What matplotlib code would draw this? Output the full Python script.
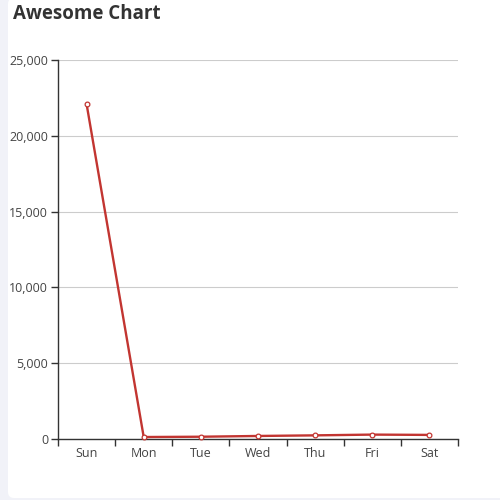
import matplotlib
matplotlib.use("Agg")
import matplotlib.pyplot as plt
from matplotlib.patches import FancyBboxPatch
from matplotlib.ticker import FuncFormatter, FixedLocator

days = ["Sun", "Mon", "Tue", "Wed", "Thu", "Fri", "Sat"]
values = [22100, 130, 150, 200, 240, 290, 270]
y_ticks = [0, 5000, 10000, 15000, 20000, 25000]
title = "Awesome Chart"

plt.rcParams['font.family'] = ['Open Sans', 'DejaVu Sans']

fig = plt.figure(figsize=(5, 5), dpi=100, facecolor="#f1f2f8")
card = FancyBboxPatch((8/500, 2/500), 1.0, 1.0,
                      boxstyle="round,pad=0,rounding_size=0.012",
                      transform=fig.transFigure, facecolor="white",
                      edgecolor="none", zorder=-10)
fig.patches.append(card)

ax = fig.add_axes([58/500, 1 - 439/500, 400/500, 379/500])
ax.set_facecolor("none")
ax.set_zorder(1)
x = list(range(len(days)))
ax.plot(x, values, color="#c23531", lw=1.7, marker="o", markersize=3.4,
        markerfacecolor="white", markeredgecolor="#c23531", markeredgewidth=0.9,
        zorder=3, clip_on=False)

ax.set_xlim(-0.5, len(days) - 0.5)
ax.set_ylim(0, 25000)
ax.set_yticks(y_ticks)
ax.yaxis.set_major_formatter(FuncFormatter(lambda v, p: f"{int(v):,}"))
ax.set_xticks(x)
ax.set_xticklabels(days)
ax.xaxis.set_minor_locator(FixedLocator([i - 0.5 for i in range(len(days) + 1)]))
ax.tick_params(axis="x", which="major", length=0, pad=6, labelsize=9, labelcolor="#444")
ax.tick_params(axis="x", which="minor", length=5, width=1, color="#333", direction="out")
ax.tick_params(axis="y", which="major", length=5, width=1, color="#333", pad=2,
               labelsize=9, labelcolor="#444")
ax.grid(axis="y", color="#cccccc", lw=0.8)
ax.set_axisbelow(True)
for s in ["top", "right"]:
    ax.spines[s].set_visible(False)
for s in ["left", "bottom"]:
    ax.spines[s].set_color("#333")
    ax.spines[s].set_linewidth(1)

fig.text(13/500, 1 - 14/500, title, fontsize=13.5, fontweight="bold",
         color="#333", ha="left", va="center")

fig.savefig("out.png", dpi=100, facecolor=fig.get_facecolor())
